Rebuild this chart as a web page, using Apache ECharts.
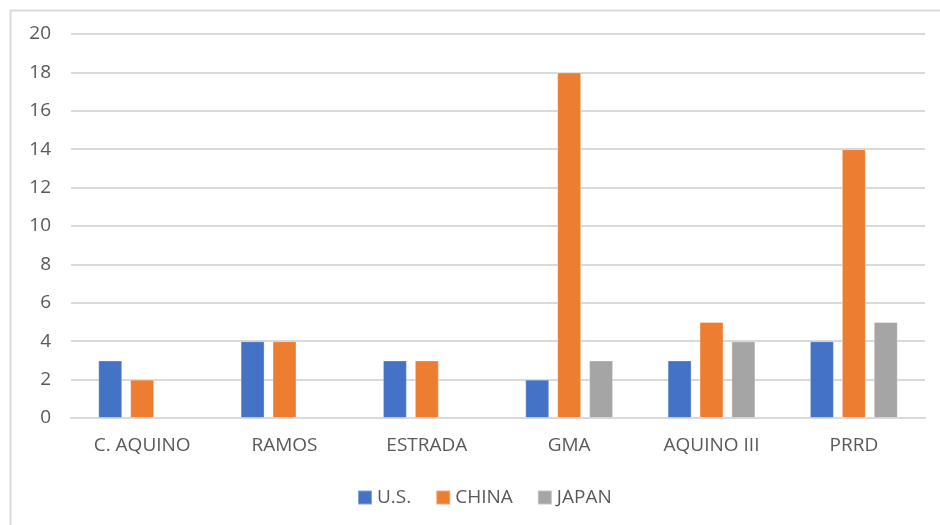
<!DOCTYPE html>
<html>
<head>
<meta charset="utf-8">
<script src="https://cdn.jsdelivr.net/npm/echarts@6/dist/echarts.min.js"></script>
<style>html,body{margin:0;padding:0;background:#fff;}#c{width:940px;height:525px;}</style>
</head>
<body>
<div id="c"></div>
<script>
var categories = ['C. AQUINO', 'RAMOS', 'ESTRADA', 'GMA', 'AQUINO III', 'PRRD'];
var usValues = [3, 4, 3, 2, 3, 4];
var chinaValues = [2, 4, 3, 18, 5, 14];
var japanValues = [null, null, null, 3, 4, 5];
var seriesNames = ['U.S.', 'CHINA', 'JAPAN'];
var yTicks = {min: 0, max: 20, interval: 2};

var colors = ['#4472C4', '#ED7D31', '#A5A5A5'];
var font = 'Open Sans';
var chart = echarts.init(document.getElementById('c'), null, {renderer: 'canvas'});
function bar(name, data, color) {
  return {
    name: name, type: 'bar', data: data, barWidth: 24, barGap: '33%',
    itemStyle: {color: color, borderColor: 'rgba(255,255,255,0.35)', borderWidth: 1},
    emphasis: {disabled: true}
  };
}
chart.setOption({
  animation: false,
  color: colors,
  graphic: [{
    type: 'rect', left: 8, top: 8, silent: true,
    shape: {width: 960, height: 540},
    style: {fill: 'none', stroke: '#d9d9d9', lineWidth: 2}
  }],
  grid: {left: 71, right: 15, top: 34, bottom: 107, containLabel: false},
  legend: {
    left: 357, top: 488, padding: 0, itemWidth: 14, itemHeight: 14, itemGap: 24,
    icon: 'rect',
    textStyle: {color: '#595959', fontSize: 19, fontFamily: font},
    data: seriesNames
  },
  xAxis: {
    type: 'category', data: categories,
    axisLine: {show: true, lineStyle: {color: '#d9d9d9', width: 2}},
    axisTick: {show: false},
    axisLabel: {color: '#595959', fontSize: 19, fontFamily: font, margin: 18}
  },
  yAxis: {
    type: 'value', min: yTicks.min, max: yTicks.max, interval: yTicks.interval,
    axisLine: {show: false}, axisTick: {show: false},
    axisLabel: {color: '#595959', fontSize: 19, fontFamily: font, margin: 20},
    splitLine: {lineStyle: {color: '#d9d9d9', width: 2}}
  },
  series: [
    bar(seriesNames[0], usValues, colors[0]),
    bar(seriesNames[1], chinaValues, colors[1]),
    bar(seriesNames[2], japanValues, colors[2])
  ]
});
</script>
</body>
</html>
